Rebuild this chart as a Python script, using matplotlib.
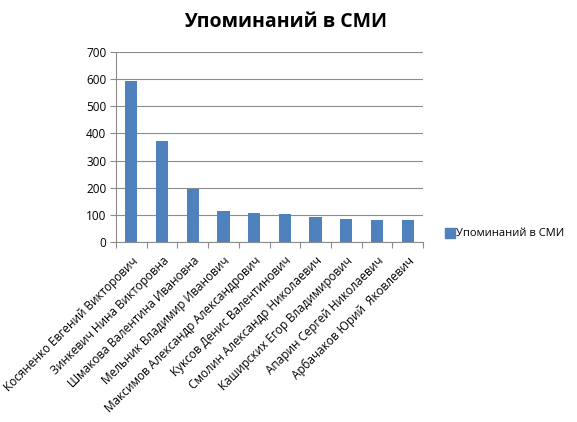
import matplotlib
matplotlib.use("Agg")
import matplotlib.pyplot as plt
from matplotlib.lines import Line2D

names = [
    "Косяненко Евгений Викторович",
    "Зинкевич Нина Викторовна",
    "Шмакова Валентина Ивановна",
    "Мельник Владимир Иванович",
    "Максимов Александр Александрович",
    "Куксов Денис Валентинович",
    "Смолин Александр Николаевич",
    "Каширских Егор Владимирович",
    "Апарин Сергей Николаевич",
    "Арбачаков Юрий  Яковлевич",
]
values = [594, 372, 195, 115, 107, 105, 93, 85, 82, 82]
series_name = "Упоминаний в СМИ"
yticks = [0, 100, 200, 300, 400, 500, 600, 700]

plt.rcParams['font.family'] = ['Open Sans', 'DejaVu Sans']

fig = plt.figure(figsize=(5.77, 4.22), dpi=100)
ax = fig.add_axes([116/577, 1-242/422, (423-116)/577, (242-52)/422])

x = list(range(len(values)))
ax.bar(x, values, width=0.4, color="#4F81BD", zorder=3)
ax.set_xlim(-0.5, len(values)-0.5)
ax.set_ylim(0, 700)
ax.set_yticks(yticks)
ax.set_yticklabels([str(t) for t in yticks], fontsize=8.5)
ax.yaxis.grid(True, color="#8C8C8C", linewidth=0.8, zorder=0)
for s in ["top", "right"]:
    ax.spines[s].set_visible(False)
ax.spines["left"].set_color("#8C8C8C")
ax.spines["bottom"].set_color("#8C8C8C")
ax.tick_params(axis="y", length=4, color="#8C8C8C", pad=3)

# category boundary ticks
ax.set_xticks([i - 0.5 for i in range(len(values)+1)])
ax.set_xticklabels([])
ax.tick_params(axis="x", which="major", length=4, color="#8C8C8C")
ax.set_xticks(x, minor=True)
ax.set_xticklabels(names, minor=True, rotation=45, ha="right",
                   rotation_mode="anchor", fontsize=8.5)
ax.tick_params(axis="x", which="minor", length=0, pad=9)

fig.text(286/577, 1-22/422, series_name, ha="center", va="center",
         fontsize=14, fontweight="bold")

handle = Line2D([], [], marker="s", linestyle="none", color="#4F81BD", markersize=6.5)
fig.legend([handle], [series_name], loc="center left",
           bbox_to_anchor=(434/577, 1-234/422), frameon=False,
           fontsize=8.0, handletextpad=0.1, handlelength=1.0)

fig.savefig("out.png", dpi=100)
